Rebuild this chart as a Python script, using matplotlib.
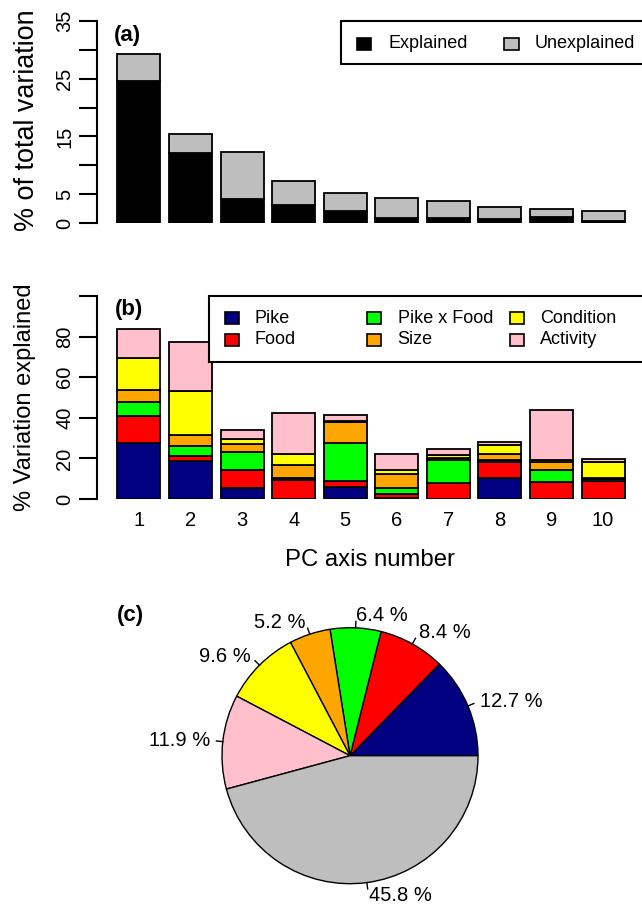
import matplotlib
matplotlib.use("Agg")
import matplotlib.pyplot as plt
from matplotlib.patches import Rectangle
import numpy as np

plt.rcParams['font.family'] = ['Liberation Sans', 'DejaVu Sans']

# (a) share of total variation per PC axis
pc_axes = [str(i) for i in range(1, 11)]
explained = [24.5, 12.1, 4.25, 3.2, 2.2, 0.97, 1.0, 0.8, 1.1, 0.45]
unexplained = [4.7, 3.4, 8.05, 4.1, 3.0, 3.33, 2.9, 1.96, 1.3, 1.62]

# (b) % of each axis explained by each term
terms = ['Pike', 'Food', 'Pike x Food', 'Size', 'Condition', 'Activity']
pike = [27.5, 18.5, 5.6, 0.2, 5.8, 0.5, 0.2, 10.2, 0.2, 0.2]
food = [13.2, 2.8, 8.7, 9.3, 3.1, 1.9, 7.8, 7.8, 8.4, 8.6]
pike_food = [7.3, 4.6, 8.8, 0.7, 18.6, 2.9, 11.2, 1.0, 5.6, 1.0]
size = [5.9, 5.4, 4.0, 6.6, 10.4, 7.0, 1.2, 3.0, 4.0, 0.7]
condition = [15.7, 21.8, 2.6, 5.4, 0.6, 2.1, 1.2, 4.8, 1.2, 7.8]
activity = [14.0, 24.4, 4.4, 20.4, 2.7, 7.7, 3.0, 1.4, 24.6, 1.6]

# (c) overall partition of variation
pie_vals = [12.7, 8.4, 6.4, 5.2, 9.6, 11.9, 45.8]

term_cols = ['#000080', '#FF0000', '#00FF00', '#FFA500', '#FFFF00', '#FFC0CB']
grey = '#BEBEBE'

W, H = 642, 905
fig = plt.figure(figsize=(W / 100, H / 100), dpi=100)


def box(left, top, right, bottom):
    return [left / W, 1 - bottom / H, (right - left) / W, (bottom - top) / H]


def key(x, y, color, label, tx, fs=13):
    # legend swatch (14x12 px) plus its label, positioned in pixels
    fig.add_artist(Rectangle((x / W, 1 - (y + 6) / H), 14 / W, 12 / H,
                             facecolor=color, edgecolor='black', lw=1.2,
                             transform=fig.transFigure))
    fig.text(tx / W, 1 - y / H, label, fontsize=fs, ha='left', va='center')


def frame(left, top, right, bottom):
    fig.add_artist(Rectangle((left / W, 1 - bottom / H), (right - left) / W,
                             (bottom - top) / H, facecolor='white',
                             edgecolor='black', lw=1.5, transform=fig.transFigure))


xpos = 0.7 + 1.2 * np.arange(10)
xlim = (-0.272, 12.472)

# ---- panel (a)
ax1 = fig.add_axes(box(97.2, 20.7, 644.8, 223.3))
ax1.bar(xpos, explained, width=1, color='black', edgecolor='black', lw=1.3)
ax1.bar(xpos, unexplained, width=1, bottom=explained, color=grey,
        edgecolor='black', lw=1.3)
ax1.set_xlim(*xlim)
ax1.set_ylim(0, 35)
for s in ['top', 'right', 'bottom']:
    ax1.spines[s].set_visible(False)
ax1.spines['left'].set_linewidth(1.5)
ax1.set_xticks([])
ax1.set_yticks(np.arange(0, 36, 5))
ax1.set_yticklabels(['0', '5', '', '15', '', '25', '', '35'], rotation=90,
                    va='center', fontsize=14.5)
ax1.tick_params(axis='y', length=12.7, width=1.5, pad=4)
fig.text(27 / W, 1 - 120 / H, '% of total variation', rotation=90,
         ha='center', va='center', fontsize=19.4)
fig.text(113.8 / W, 1 - 35 / H, '(a)', fontweight='bold', fontsize=16,
         ha='left', va='center')

frame(341, 21, 660, 64.3)
key(357, 44, 'black', 'Explained', 388.3)
key(504.5, 44, grey, 'Unexplained', 535)

# ---- panel (b)
ax2 = fig.add_axes(box(97.2, 296, 644.8, 499))
bottom = np.zeros(10)
for vals, col in zip([pike, food, pike_food, size, condition, activity], term_cols):
    ax2.bar(xpos, vals, width=1, bottom=bottom, color=col, edgecolor='black', lw=1.3)
    bottom += np.array(vals)
ax2.set_xlim(*xlim)
ax2.set_ylim(0, 100)
for s in ['top', 'right', 'bottom']:
    ax2.spines[s].set_visible(False)
ax2.spines['left'].set_linewidth(1.5)
ax2.set_yticks(np.arange(0, 101, 20))
ax2.set_yticklabels(['0', '20', '40', '60', '80', ''], rotation=90,
                    va='center', fontsize=14.5)
ax2.tick_params(axis='y', length=12.7, width=1.5, pad=4)
ax2.set_xticks(xpos)
ax2.set_xticklabels(pc_axes, fontsize=14.5)
ax2.tick_params(axis='x', length=0, pad=9)
fig.text(369.6 / W, 1 - 560 / H, 'PC axis number', ha='center', va='center',
         fontsize=17.2)
fig.text(25 / W, 1 - 397.5 / H, '% Variation explained', rotation=90,
         ha='center', va='center', fontsize=17)
fig.text(114.7 / W, 1 - 309 / H, '(b)', fontweight='bold', fontsize=16,
         ha='left', va='center')

frame(209, 296, 660, 361.7)
rows = [318.3, 340]
sq_x = [225.2, 367, 510]
tx_x = [255, 397.7, 540]
for i, (term, col) in enumerate(zip(terms, term_cols)):
    c, r = divmod(i, 2)
    key(sq_x[c], rows[r], col, term, tx_x[c])

# ---- panel (c)
r_px = 128.0
half = 150.0
cx, cy = 350.0, 755.7
ax3 = fig.add_axes(box(cx - half, cy - half, cx + half, cy + half))
pie_labels = [f'{v:.1f} %' for v in pie_vals]
wedges, texts = ax3.pie(pie_vals, colors=term_cols + [grey], startangle=0,
                        counterclock=True, labels=pie_labels, labeldistance=1.1,
                        radius=1, textprops=dict(fontsize=14.5),
                        wedgeprops=dict(edgecolor='black', linewidth=1.0))
lim = half / r_px
ax3.set_xlim(-lim, lim)
ax3.set_ylim(-lim, lim)
ax3.set_aspect('equal')
for w in wedges:
    a = np.deg2rad((w.theta1 + w.theta2) / 2)
    ax3.plot([np.cos(a), 1.05 * np.cos(a)], [np.sin(a), 1.05 * np.sin(a)],
             color='black', lw=1.0, clip_on=False)
for t in texts:
    t.set_clip_on(False)
fig.text(116.7 / W, 1 - 615 / H, '(c)', fontweight='bold', fontsize=16,
         ha='left', va='center')

fig.savefig('out.png', dpi=100)
